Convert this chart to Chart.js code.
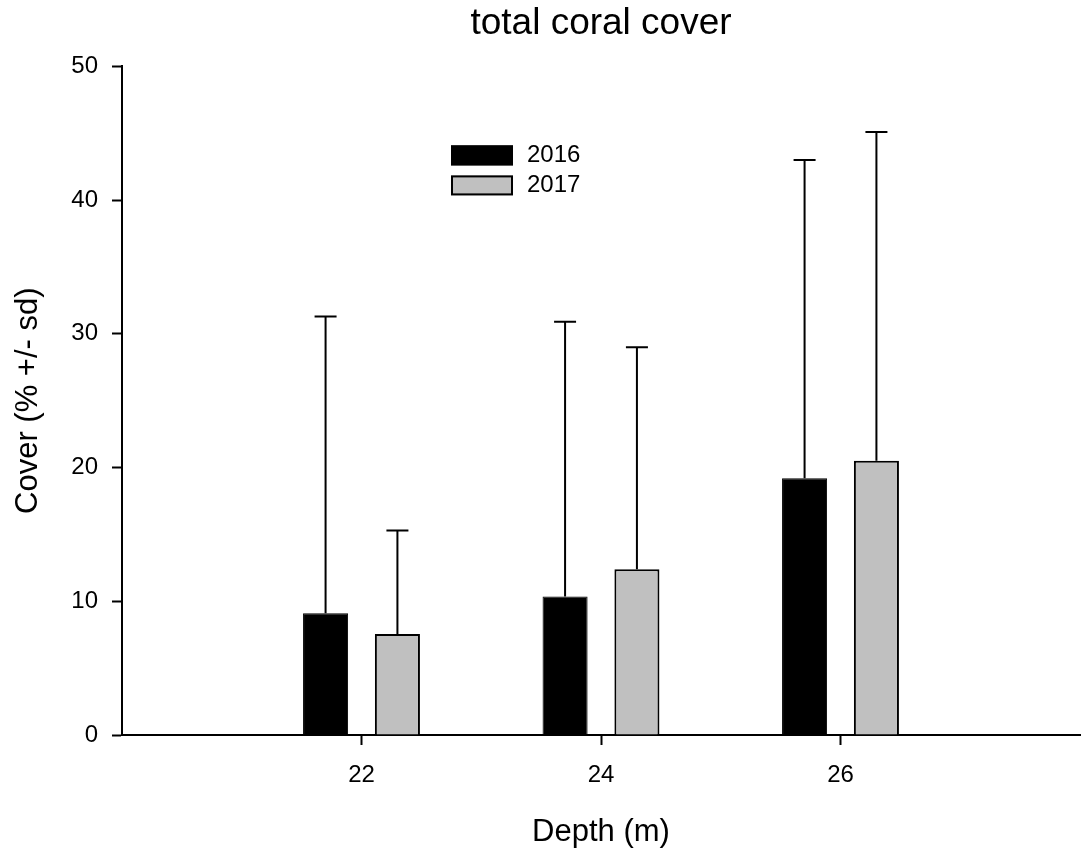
<!DOCTYPE html>
<html>
<head>
<meta charset="utf-8">
<script src="https://cdn.jsdelivr.net/npm/chart.js"></script>
<style>
  html, body { margin: 0; padding: 0; background: #fff; }
  #wrap { width: 1081px; height: 851px; }
</style>
</head>
<body>
<div id="wrap"><canvas id="coverChart"></canvas></div>
<script>
const depths = [22, 24, 26];
const cover2016 = [9.1, 10.35, 19.2];
const sd2016 = [22.2, 20.55, 23.8];
const cover2017 = [7.55, 12.4, 20.5];
const sd2017 = [7.75, 16.6, 24.6];
const yTicks = [0, 10, 20, 30, 40, 50];

const FONT = 'Arial, "Liberation Sans", sans-serif';

// upward-only sd whiskers with a cap
const errorBars = {
  id: 'errorBars',
  afterDatasetsDraw(chart) {
    const ctx = chart.ctx;
    const y = chart.scales.y;
    ctx.save();
    ctx.strokeStyle = '#000';
    ctx.lineWidth = 2;
    chart.data.datasets.forEach((ds, di) => {
      const meta = chart.getDatasetMeta(di);
      meta.data.forEach((bar, i) => {
        const top = y.getPixelForValue(ds.data[i].y + ds.sd[i]);
        ctx.beginPath();
        ctx.moveTo(bar.x, bar.y);
        ctx.lineTo(bar.x, top);
        ctx.moveTo(bar.x - 11, top);
        ctx.lineTo(bar.x + 11, top);
        ctx.stroke();
      });
    });
    ctx.restore();
  }
};

const boxLegend = {
  id: 'boxLegend',
  afterDraw(chart) {
    const ctx = chart.ctx;
    const area = chart.chartArea;
    let bx = area.left + 329;
    let by = area.top + 79;
    ctx.save();
    ctx.font = '24px ' + FONT;
    ctx.textBaseline = 'middle';
    chart.data.datasets.forEach((ds) => {
      ctx.fillStyle = ds.backgroundColor;
      ctx.fillRect(bx, by, 62, 20);
      ctx.strokeStyle = '#000';
      ctx.lineWidth = 2;
      ctx.strokeRect(bx + 1, by + 1, 60, 18);
      ctx.fillStyle = '#000';
      ctx.fillText(ds.label, bx + 76, by + 10);
      by += 30;
    });
    ctx.restore();
  }
};

const ctx = document.getElementById('coverChart').getContext('2d');

new Chart(ctx, {
  type: 'bar',
  data: {
    datasets: [
      {
        label: '2016',
        data: depths.map((d, i) => ({ x: d, y: cover2016[i] })),
        sd: sd2016,
        backgroundColor: '#000000',
        borderColor: '#000000',
        borderWidth: 1
      },
      {
        label: '2017',
        data: depths.map((d, i) => ({ x: d, y: cover2017[i] })),
        sd: sd2017,
        backgroundColor: '#c0c0c0',
        borderColor: '#000000',
        borderWidth: 2
      }
    ]
  },
  options: {
    responsive: true,
    maintainAspectRatio: false,
    animation: false,
    categoryPercentage: 0.6,
    barPercentage: 0.627,
    layout: { padding: { left: 0, right: 1, top: 0, bottom: 0 } },
    scales: {
      x: {
        type: 'linear',
        min: 20,
        max: 28,
        offset: false,
        afterBuildTicks: (scale) => {
          scale.ticks = depths.map((v) => ({ value: v }));
        },
        afterFit: (scale) => { scale.height = 116; },
        grid: {
          offset: false,
          drawOnChartArea: false,
          drawTicks: true,
          tickLength: 10,
          tickWidth: 2,
          tickColor: '#000'
        },
        border: { display: true, color: '#000', width: 2 },
        ticks: {
          padding: 16,
          color: '#000',
          font: { family: FONT, size: 24 },
          callback: (value) => String(value)
        },
        title: {
          display: true,
          text: 'Depth (m)',
          color: '#000',
          font: { family: FONT, size: 31 },
          padding: { top: 0, bottom: 0 }
        }
      },
      y: {
        min: 0,
        max: 50,
        afterBuildTicks: (scale) => {
          scale.ticks = yTicks.map((v) => ({ value: v }));
        },
        afterFit: (scale) => { scale.width = 122; },
        grid: {
          drawOnChartArea: false,
          drawTicks: true,
          tickLength: 10,
          tickWidth: 2,
          tickColor: '#000'
        },
        border: { display: true, color: '#000', width: 2 },
        ticks: {
          padding: 14,
          color: '#000',
          font: { family: FONT, size: 24 }
        },
        title: {
          display: true,
          text: 'Cover (% +/- sd)',
          color: '#000',
          font: { family: FONT, size: 31 },
          padding: { top: 10, bottom: 0 }
        }
      }
    },
    plugins: {
      legend: { display: false },
      tooltip: { enabled: false },
      title: {
        display: true,
        fullSize: false,
        text: 'total coral cover',
        color: '#000',
        font: { family: FONT, size: 37, weight: 'normal' },
        padding: { top: 2, bottom: 20 }
      }
    }
  },
  plugins: [errorBars, boxLegend]
});
</script>
</body>
</html>
